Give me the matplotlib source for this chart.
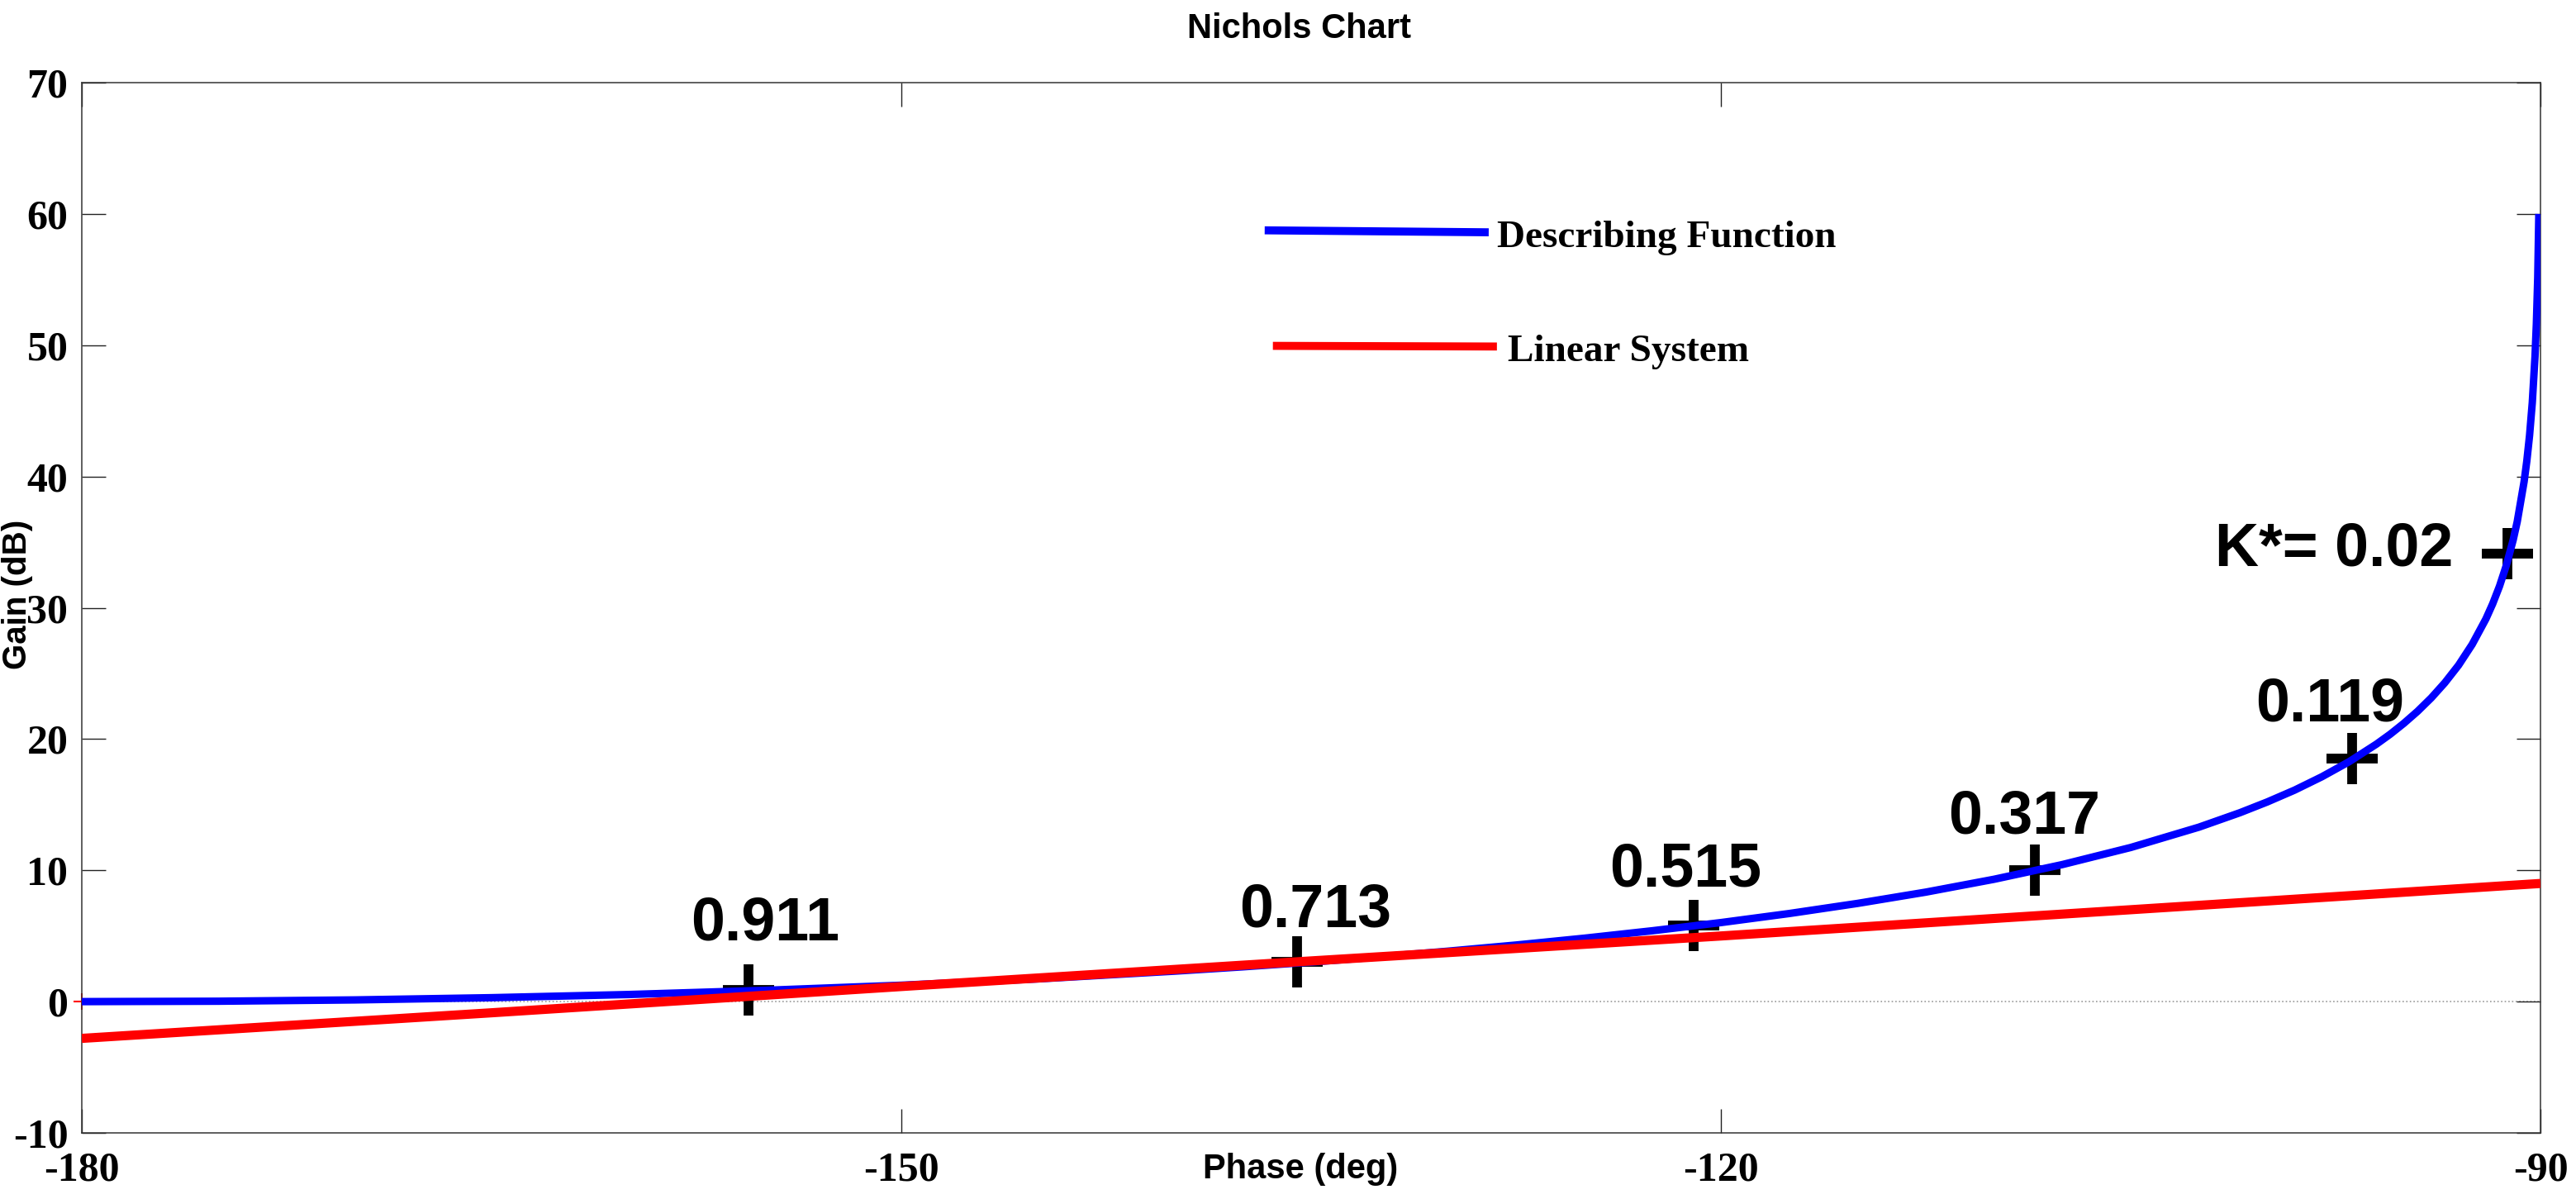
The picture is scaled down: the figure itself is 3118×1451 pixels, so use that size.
import numpy as np
import matplotlib
matplotlib.use("Agg")
import matplotlib.pyplot as plt

plt.rcParams["axes.unicode_minus"] = False

# Curva da funcao descritiva (fase em graus, ganho em dB)
fase_fd = [-180.0, -175.0, -170.0, -165.0, -160.0, -155.0, -150.0, -145.0, -140.0,
           -137.5, -135.0, -132.5, -130.0, -127.5, -125.0, -122.5, -120.0, -117.5,
           -115.0, -112.5, -110.0, -107.5, -105.0, -102.5, -101.0, -100.0, -99.0,
           -98.0, -97.0, -96.0, -95.5, -95.0, -94.5, -94.0, -93.5, -93.0, -92.5,
           -92.0, -91.75, -91.5, -91.25, -91.0, -90.85, -90.6, -90.5, -90.4, -90.3,
           -90.2, -90.15, -90.1, -90.06]
ganho_fd = [0.0, 0.03, 0.13, 0.30, 0.54, 0.86, 1.25, 1.73, 2.32,
            2.65, 3.01, 3.41, 3.84, 4.31, 4.83, 5.40, 6.02, 6.71,
            7.48, 8.34, 9.32, 10.44, 11.74, 13.29, 14.39, 15.21, 16.11,
            17.13, 18.28, 19.62, 20.37, 21.20, 22.11, 23.13, 24.29, 25.62, 27.21,
            29.14, 30.30, 31.64, 33.23, 35.16, 36.57, 39.60, 41.18, 43.12, 45.62,
            49.14, 51.64, 55.16, 60.0]

# Sistema linear
fase_lin = [-180.0, -165.0, -150.0, -135.0, -120.0, -105.0, -90.0]
ganho_lin = [-2.8, -0.85, 1.15, 3.1, 5.0, 7.0, 9.0]

# Pontos marcados (+) e valores de K
fase_k = [-155.6, -135.5, -121.0, -108.5, -96.9, -91.2]
ganho_k = [0.9, 3.0, 5.8, 10.0, 18.5, 34.1]
rotulos_k = ["0.911", "0.713", "0.515", "0.317", "0.119", "K*= 0.02"]
# posicao dos rotulos (x, y da linha de base)
pos_rot = [(-155.0, 4.7), (-134.85, 5.7), (-121.3, 8.8), (-108.9, 12.8),
           (-97.7, 21.4), (-93.2, 33.2)]

fig = plt.figure(figsize=(31.18, 14.51), dpi=100)
ax = fig.add_axes([0.03175, 0.05513, 0.95446, 0.87595])

# linha de 0 dB
ax.axhline(0, color="#9a9a9a", ls=":", lw=1.2, zorder=1)

# marcadores + por baixo das curvas
ax.plot(fase_k, ganho_k, "+", color="black", ms=45, mew=8.5, zorder=2)
ax.plot([-180], [0], "+", color="red", ms=14, mew=1.5, zorder=2, clip_on=False)

ax.plot(fase_fd, ganho_fd, color="#0000ff", lw=6.5, zorder=3,
        solid_capstyle="butt", solid_joinstyle="round")
ax.plot(fase_lin, ganho_lin, color="#ff0000", lw=8, zorder=4, solid_capstyle="butt")

for txt, (xt, yt) in zip(rotulos_k, pos_rot):
    ha = "right" if txt.startswith("K") else "center"
    ax.text(xt, yt, txt, ha=ha, va="baseline", fontsize=53, fontweight="bold",
            family="Liberation Sans", zorder=5)

# legenda desenhada a mao, como no original
ax.plot([-136.7, -128.5], [58.75, 58.6], color="#0000ff", lw=7, solid_capstyle="butt")
ax.text(-128.2, 57.5, "Describing Function", fontsize=34, fontweight="bold",
        family="Liberation Serif", va="baseline")
ax.plot([-136.4, -128.2], [49.95, 49.9], color="#ff0000", lw=7, solid_capstyle="butt")
ax.text(-127.8, 48.8, "Linear System", fontsize=34, fontweight="bold",
        family="Liberation Serif", va="baseline")

ax.set_xlim(-180, -90)
ax.set_ylim(-10, 70)
ax.set_xticks([-180, -150, -120, -90])
ax.set_yticks(np.arange(-10, 71, 10))
ax.tick_params(direction="in", length=21, width=1.0, top=True, right=True,
               color="#222222")
ax.tick_params(axis="x", pad=16)
ax.tick_params(axis="y", pad=12)
for lab in ax.get_xticklabels() + ax.get_yticklabels():
    lab.set_family("Liberation Serif")
    lab.set_fontweight("bold")
    lab.set_fontsize(36)

for s in ax.spines.values():
    s.set_linewidth(1.1)
    s.set_color("#333333")

ax.set_xlabel("Phase (deg)", fontsize=30, fontweight="bold", family="Liberation Sans")
ax.xaxis.set_label_coords(0.4956, -0.0189)
ax.set_ylabel("Gain (dB)", fontsize=29, fontweight="bold", family="Liberation Sans")
ax.yaxis.set_label_coords(-0.0198, 0.513)

fig.text(1572 / 3118, 1 - 35 / 1451, "Nichols Chart", ha="center", va="center",
         fontsize=30, fontweight="bold", family="Liberation Sans")

fig.savefig("out.png", dpi=100)
